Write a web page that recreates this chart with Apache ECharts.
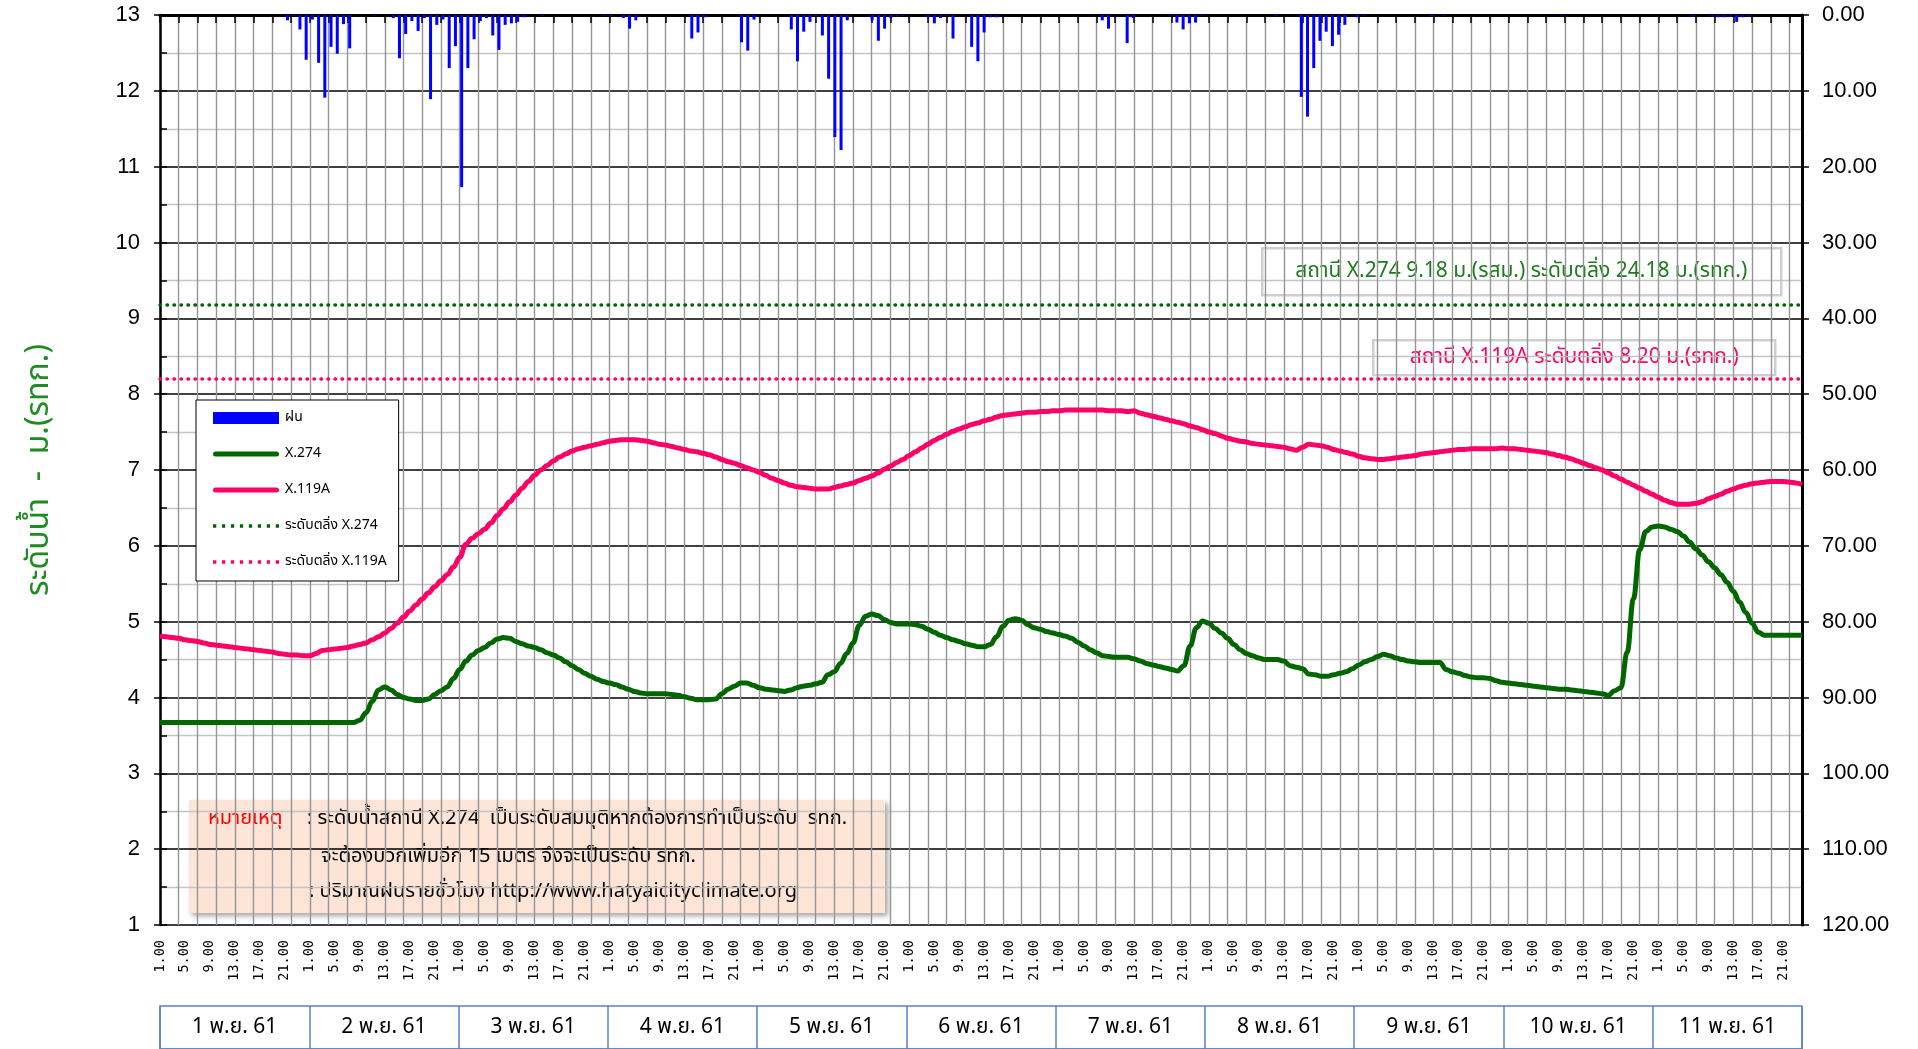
<!DOCTYPE html>
<html>
<head>
<meta charset="utf-8">
<title>ระดับน้ำ X.274 / X.119A</title>
<script src="https://cdn.jsdelivr.net/npm/echarts@6/dist/echarts.min.js"></script>
<style>
  html, body { margin: 0; padding: 0; background: #fff; }
  #main { width: 1918px; height: 1049px; }
</style>
</head>
<body>
<div id="main"></div>
<script>
// วันที่ (1-11 พ.ย. 61) และชั่วโมง 1.00 - 24.00
const days = ['1 พ.ย. 61', '2 พ.ย. 61', '3 พ.ย. 61', '4 พ.ย. 61', '5 พ.ย. 61', '6 พ.ย. 61',
  '7 พ.ย. 61', '8 พ.ย. 61', '9 พ.ย. 61', '10 พ.ย. 61', '11 พ.ย. 61']
const hours = ['1.00', '2.00', '3.00', '4.00', '5.00', '6.00', '7.00', '8.00', '9.00', '10.00', '11.00', '12.00',
  '13.00', '14.00', '15.00', '16.00', '17.00', '18.00', '19.00', '20.00', '21.00', '22.00', '23.00', '24.00']

// ระดับตลิ่ง
const bankX274 = 9.18
const bankX119A = 8.20

// ระดับน้ำ X.274 (ม.) รายชั่วโมง แยกรายวัน
const x274 = [
  [3.67, 3.67, 3.67, 3.67, 3.67, 3.67, 3.67, 3.67, 3.67, 3.67, 3.67, 3.67, 3.67, 3.67, 3.67, 3.67, 3.67, 3.67, 3.67, 3.67, 3.67, 3.67, 3.67, 3.67],
  [3.67, 3.67, 3.67, 3.67, 3.67, 3.67, 3.67, 3.67, 3.70, 3.80, 3.95, 4.10, 4.14, 4.10, 4.04, 4.00, 3.98, 3.96, 3.96, 3.98, 4.04, 4.09, 4.14, 4.25],
  [4.37, 4.48, 4.56, 4.62, 4.66, 4.72, 4.77, 4.79, 4.78, 4.74, 4.71, 4.68, 4.66, 4.63, 4.59, 4.56, 4.52, 4.47, 4.42, 4.37, 4.32, 4.28, 4.24, 4.21],
  [4.19, 4.17, 4.14, 4.11, 4.08, 4.06, 4.05, 4.05, 4.05, 4.05, 4.04, 4.03, 4.01, 3.99, 3.97, 3.97, 3.97, 3.98, 4.05, 4.11, 4.15, 4.19, 4.19, 4.16],
  [4.13, 4.11, 4.10, 4.09, 4.08, 4.10, 4.13, 4.15, 4.16, 4.18, 4.20, 4.30, 4.34, 4.45, 4.58, 4.72, 4.95, 5.07, 5.10, 5.08, 5.03, 4.99, 4.97, 4.97],
  [4.97, 4.96, 4.94, 4.90, 4.86, 4.82, 4.79, 4.76, 4.74, 4.71, 4.69, 4.67, 4.67, 4.70, 4.80, 4.94, 5.02, 5.04, 5.02, 4.96, 4.92, 4.90, 4.87, 4.85],
  [4.83, 4.81, 4.78, 4.73, 4.68, 4.63, 4.59, 4.55, 4.54, 4.53, 4.53, 4.53, 4.51, 4.48, 4.45, 4.43, 4.41, 4.39, 4.37, 4.35, 4.42, 4.68, 4.92, 5.01],
  [4.98, 4.91, 4.85, 4.78, 4.70, 4.63, 4.58, 4.55, 4.52, 4.50, 4.50, 4.50, 4.48, 4.42, 4.40, 4.38, 4.31, 4.30, 4.28, 4.28, 4.30, 4.32, 4.34, 4.38],
  [4.43, 4.47, 4.50, 4.54, 4.57, 4.55, 4.52, 4.50, 4.48, 4.47, 4.46, 4.46, 4.46, 4.46, 4.37, 4.34, 4.32, 4.29, 4.27, 4.26, 4.26, 4.25, 4.22, 4.20],
  [4.19, 4.18, 4.17, 4.16, 4.15, 4.14, 4.13, 4.12, 4.11, 4.11, 4.10, 4.09, 4.08, 4.07, 4.06, 4.05, 4.03, 4.09, 4.13, 4.60, 5.30, 5.95, 6.19, 6.25],
  [6.26, 6.25, 6.22, 6.19, 6.13, 6.05, 5.96, 5.88, 5.79, 5.71, 5.62, 5.52, 5.40, 5.26, 5.12, 4.98, 4.86, 4.82, 4.82, 4.82, 4.82, 4.82, 4.82, 4.82]
]

// ระดับน้ำ X.119A (ม.รทก.)
const x119a = [
  [4.81, 4.80, 4.79, 4.78, 4.76, 4.75, 4.74, 4.72, 4.70, 4.69, 4.68, 4.67, 4.66, 4.65, 4.64, 4.63, 4.62, 4.61, 4.60, 4.58, 4.57, 4.56, 4.56, 4.55],
  [4.55, 4.58, 4.62, 4.63, 4.64, 4.65, 4.66, 4.68, 4.70, 4.72, 4.76, 4.80, 4.85, 4.91, 4.98, 5.06, 5.14, 5.22, 5.30, 5.38, 5.46, 5.54, 5.62, 5.72],
  [5.85, 6.02, 6.10, 6.16, 6.22, 6.30, 6.40, 6.49, 6.58, 6.67, 6.76, 6.85, 6.93, 7.00, 7.06, 7.12, 7.17, 7.21, 7.25, 7.28, 7.30, 7.32, 7.34, 7.36],
  [7.38, 7.39, 7.40, 7.40, 7.40, 7.39, 7.38, 7.36, 7.34, 7.33, 7.31, 7.29, 7.27, 7.25, 7.24, 7.22, 7.20, 7.17, 7.14, 7.11, 7.09, 7.06, 7.03, 7.00],
  [6.97, 6.93, 6.89, 6.86, 6.83, 6.80, 6.78, 6.77, 6.76, 6.75, 6.75, 6.75, 6.77, 6.79, 6.81, 6.83, 6.86, 6.89, 6.92, 6.96, 7.01, 7.05, 7.10, 7.14],
  [7.19, 7.24, 7.29, 7.34, 7.39, 7.43, 7.47, 7.51, 7.54, 7.57, 7.60, 7.62, 7.65, 7.67, 7.70, 7.72, 7.73, 7.74, 7.75, 7.76, 7.76, 7.77, 7.77, 7.78],
  [7.78, 7.79, 7.79, 7.79, 7.79, 7.79, 7.79, 7.79, 7.78, 7.78, 7.78, 7.77, 7.78, 7.75, 7.73, 7.71, 7.69, 7.67, 7.65, 7.63, 7.61, 7.58, 7.56, 7.53],
  [7.50, 7.48, 7.45, 7.42, 7.40, 7.38, 7.37, 7.35, 7.34, 7.33, 7.32, 7.31, 7.30, 7.28, 7.26, 7.30, 7.34, 7.33, 7.32, 7.30, 7.27, 7.25, 7.23, 7.21],
  [7.18, 7.16, 7.15, 7.14, 7.14, 7.15, 7.16, 7.17, 7.18, 7.19, 7.21, 7.22, 7.23, 7.24, 7.25, 7.26, 7.27, 7.27, 7.28, 7.28, 7.28, 7.28, 7.28, 7.29],
  [7.28, 7.28, 7.27, 7.26, 7.25, 7.24, 7.23, 7.21, 7.19, 7.17, 7.15, 7.12, 7.09, 7.06, 7.03, 7.00, 6.96, 6.92, 6.88, 6.84, 6.80, 6.76, 6.72, 6.68],
  [6.64, 6.60, 6.57, 6.55, 6.55, 6.55, 6.56, 6.58, 6.62, 6.65, 6.68, 6.72, 6.75, 6.78, 6.80, 6.82, 6.83, 6.84, 6.85, 6.85, 6.85, 6.84, 6.83, 6.81]
]

// ปริมาณฝนรายชั่วโมง (มม.)
const rain = [
  [0, 0, 0, 0, 0, 0, 0, 0, 0, 0, 0, 0, 0, 0, 0, 0, 0, 0, 0, 0, 0.7, 0.1, 1.9, 5.9],
  [0.6, 6.3, 10.9, 4.2, 5.1, 1.2, 4.4, 0, 0, 0, 0.1, 0, 0, 0.4, 5.7, 2.5, 0.8, 2.1, 0.4, 11.1, 1.3, 0.6, 7.0, 4.1],
  [22.7, 7.0, 3.2, 0.8, 0.4, 2.7, 4.6, 1.3, 1.1, 0.9, 0.3, 0, 0, 0.1, 0, 0, 0, 0, 0, 0, 0, 0, 0, 0.1],
  [0.1, 0, 0.4, 1.8, 0.7, 0, 0, 0, 0, 0, 0, 0, 0, 3.1, 2.3, 0.3, 0, 0, 0, 0, 0, 3.6, 4.7, 0.6],
  [0, 0, 0, 0, 0, 1.9, 6.1, 2.2, 0.9, 0.2, 2.7, 8.4, 16.1, 17.8, 0.7, 0, 0, 0, 0.7, 3.4, 1.8, 0.4, 0.2, 0.1],
  [0, 0, 0, 0.3, 1.1, 0.4, 0.1, 3.1, 0, 0, 4.2, 6.1, 2.3, 0.3, 0.3, 0, 0, 0, 0, 0, 0, 0, 0, 0],
  [0, 0, 0, 0, 0, 0, 0, 0.7, 1.8, 0, 0, 3.7, 0.4, 0, 0, 0, 0, 0, 0.1, 1.0, 1.9, 1.1, 1.0, 0.1],
  [0, 0, 0, 0, 0, 0, 0, 0, 0, 0, 0, 0.2, 0, 0, 0, 10.8, 13.4, 7.0, 3.4, 2.2, 4.1, 2.6, 1.3, 0],
  [0.3, 0.1, 0, 0, 0, 0, 0, 0, 0, 0, 0, 0, 0.2, 0, 0.1, 0, 0, 0, 0, 0, 0, 0, 0, 0],
  [0, 0, 0, 0, 0, 0, 0, 0, 0, 0.1, 0, 0, 0, 0, 0, 0, 0, 0, 0, 0, 0, 0, 0, 0],
  [0, 0, 0, 0, 0, 0, 0.2, 0, 0, 0.2, 0.3, 0.3, 0.2, 0.9, 0.3, 0.2, 0, 0, 0, 0, 0, 0, 0, 0]
]

const cats = []
days.forEach(() => hours.forEach(h => cats.push(h)))

const thai = '"Noto Sans Thai", "Noto Sans", "Liberation Sans", sans-serif'
const green = '#006600'
const pink = '#FF0066'
const dotted = [0.5, 6.5]
const boxBlue = '#5583C8'

// ไอคอน legend: เส้นทึบ และ เส้นจุด
const iconLine = 'path://M2.5,0H63.5A2.5,2.5 0 0 1 63.5,5H2.5A2.5,2.5 0 0 1 2.5,0Z'
const iconDots = 'path://M0,0h3.2v3.2h-3.2z M8.8,0h3.2v3.2h-3.2z M17.6,0h3.2v3.2h-3.2z M26.4,0h3.2v3.2h-3.2z' +
  ' M35.2,0h3.2v3.2h-3.2z M44,0h3.2v3.2h-3.2z M52.8,0h3.2v3.2h-3.2z M61.6,0h3.2v3.2h-3.2z'

const chart = echarts.init(document.getElementById('main'))

chart.setOption({
  backgroundColor: '#fff',
  animation: false,
  textStyle: { fontFamily: thai },
  grid: [
    { left: 160, right: 116, top: 15, bottom: 124 },
    // ตารางวันที่ด้านล่าง
    { left: 160, right: 116, top: 1006, height: 60, show: true, borderColor: boxBlue, borderWidth: 1.5 }
  ],
  legend: {
    orient: 'vertical',
    left: 196,
    top: 400,
    padding: [11, 12, 12, 17],
    itemGap: 22,
    itemWidth: 66,
    itemHeight: 12,
    borderColor: '#000',
    borderWidth: 1,
    backgroundColor: '#fff',
    textStyle: { fontSize: 14, color: '#000', padding: [0, 0, 0, 1] },
    data: [
      { name: 'ฝน', icon: 'rect' },
      { name: 'X.274', icon: iconLine },
      { name: 'X.119A', icon: iconLine },
      { name: 'ระดับตลิ่ง X.274', icon: iconDots },
      { name: 'ระดับตลิ่ง X.119A', icon: iconDots }
    ]
  },
  xAxis: [
    {
      type: 'category',
      data: cats,
      boundaryGap: false,
      axisLine: { lineStyle: { color: '#000', width: 3 } },
      axisTick: { interval: 2, length: 8, lineStyle: { color: '#000', width: 1.5 } },
      axisLabel: {
        interval: 3,
        rotate: 90,
        margin: 15,
        fontFamily: 'DejaVu Sans Mono',
        fontSize: 13.5,
        color: '#000'
      },
      splitLine: { show: true, interval: 2, lineStyle: { color: '#959595', width: 1.4 } }
    },
    {
      // แกนสำหรับแท่งฝน (แท่งอยู่ระหว่างชั่วโมง)
      type: 'category',
      data: cats,
      boundaryGap: true,
      show: false
    },
    {
      gridIndex: 1,
      type: 'category',
      position: 'top',
      data: days,
      boundaryGap: true,
      axisLine: { lineStyle: { color: boxBlue, width: 1.5 } },
      axisTick: { show: false },
      axisLabel: { inside: true, interval: 0, margin: 12, fontSize: 21, color: '#000', fontFamily: thai },
      splitLine: { show: true, interval: 0, lineStyle: { color: boxBlue, width: 1.5 } }
    }
  ],
  yAxis: [
    {
      type: 'value',
      min: 1,
      max: 13,
      interval: 1,
      name: 'ระดับน้ำ  -  ม.(รทก.)',
      nameLocation: 'middle',
      nameRotate: 90,
      nameGap: 102,
      nameTextStyle: { fontSize: 32, color: '#1E8C1E', fontFamily: thai },
      axisLine: { show: true, lineStyle: { color: '#000', width: 2.5 } },
      axisTick: { show: true, length: 6, lineStyle: { color: '#000', width: 1.5 } },
      axisLabel: { fontSize: 22, color: '#000', margin: 20, fontFamily: 'Liberation Sans' },
      splitLine: { lineStyle: { color: '#000', width: 1.6 } },
      minorTick: { show: false, splitNumber: 2 },
      minorSplitLine: { show: true, lineStyle: { color: '#C4C4C4', width: 1.3 } }
    },
    {
      type: 'value',
      position: 'right',
      inverse: true,
      min: 0,
      max: 120,
      interval: 10,
      axisLine: { show: true, lineStyle: { color: '#000', width: 3 } },
      axisTick: { show: true, length: 7, lineStyle: { color: '#000', width: 1.5 } },
      axisLabel: {
        fontSize: 22,
        color: '#000',
        margin: 20,
        fontFamily: 'Liberation Sans',
        formatter: v => v.toFixed(2)
      },
      splitLine: { show: false }
    },
    {
      // ขีดย่อยด้านในแกนซ้าย
      type: 'value',
      position: 'left',
      min: 1,
      max: 13,
      interval: 0.5,
      axisLine: { show: false },
      axisTick: { show: true, inside: true, length: 7, lineStyle: { color: '#000', width: 1.5 } },
      axisLabel: { show: false },
      splitLine: { show: false }
    },
    { gridIndex: 1, type: 'value', show: false }
  ],
  series: [
    {
      name: 'ฝน',
      type: 'bar',
      xAxisIndex: 1,
      yAxisIndex: 1,
      barWidth: 3,
      itemStyle: { color: '#0000FF' },
      data: rain.flat()
    },
    {
      name: 'X.274',
      type: 'line',
      data: x274.flat(),
      smooth: 0.4,
      smoothMonotone: 'x',
      symbol: 'none',
      itemStyle: { color: green },
      lineStyle: { color: green, width: 5 },
      z: 4
    },
    {
      name: 'X.119A',
      type: 'line',
      data: x119a.flat(),
      smooth: 0.4,
      smoothMonotone: 'x',
      symbol: 'none',
      itemStyle: { color: pink },
      lineStyle: { color: pink, width: 5 },
      z: 4
    },
    {
      name: 'ระดับตลิ่ง X.274',
      type: 'line',
      data: [],
      symbol: 'none',
      itemStyle: { color: green },
      lineStyle: { color: green, width: 3.5, type: dotted, cap: 'round' },
      markLine: {
        silent: true,
        symbol: 'none',
        label: { show: false },
        lineStyle: { color: green, width: 3.5, type: dotted, cap: 'round' },
        data: [{ yAxis: bankX274 }]
      }
    },
    {
      name: 'ระดับตลิ่ง X.119A',
      type: 'line',
      data: [],
      symbol: 'none',
      itemStyle: { color: pink },
      lineStyle: { color: pink, width: 3.5, type: dotted, cap: 'round' },
      markLine: {
        silent: true,
        symbol: 'none',
        label: { show: false },
        lineStyle: { color: pink, width: 3.5, type: dotted, cap: 'round' },
        data: [{ yAxis: bankX119A }]
      }
    }
  ],
  graphic: [
    // กล่องข้อความระดับตลิ่ง
    {
      type: 'group',
      left: 1261,
      top: 247,
      children: [
        { type: 'rect', shape: { x: 0, y: 0, width: 519, height: 47 }, style: { fill: '#fff', stroke: '#CFCFCF', lineWidth: 2.5 } },
        { type: 'text', x: 259, y: 24, style: { text: 'สถานี X.274 9.18 ม.(รสม.) ระดับตลิ่ง 24.18 ม.(รทก.)', fill: '#1E7B1E', font: '21px ' + thai, align: 'center', verticalAlign: 'middle' } }
      ]
    },
    {
      type: 'group',
      left: 1372,
      top: 339,
      children: [
        { type: 'rect', shape: { x: 0, y: 0, width: 402, height: 35 }, style: { fill: '#fff', stroke: '#CFCFCF', lineWidth: 2.5 } },
        { type: 'text', x: 201, y: 18, style: { text: 'สถานี X.119A ระดับตลิ่ง 8.20 ม.(รทก.)', fill: pink, font: '21px ' + thai, align: 'center', verticalAlign: 'middle' } }
      ]
    },
    // หมายเหตุ
    {
      type: 'group',
      left: 189,
      top: 800,
      z: 100,
      children: [
        { type: 'rect', shape: { x: 0, y: 0, width: 696, height: 113 }, style: { fill: '#FCE4D6', shadowBlur: 5, shadowOffsetX: 3, shadowOffsetY: 3, shadowColor: 'rgba(0,0,0,0.35)' } },
        { type: 'text', x: 19, y: 20, style: { text: 'หมายเหตุ', fill: '#FF0000', font: '20px ' + thai, verticalAlign: 'middle' } },
        { type: 'text', x: 118, y: 20, style: { text: ': ระดับน้ำสถานี X.274  เป็นระดับสมมุติหากต้องการทำเป็นระดับ  รทก.', fill: '#000', font: '20px ' + thai, verticalAlign: 'middle' } },
        { type: 'text', x: 132, y: 58, style: { text: 'จะต้องบวกเพิ่มอีก 15 เมตร จึงจะเป็นระดับ รทก.', fill: '#000', font: '20px ' + thai, verticalAlign: 'middle' } },
        { type: 'text', x: 120, y: 93, style: { text: ': ปริมาณฝนรายชั่วโมง http://www.hatyaicityclimate.org', fill: '#000', font: '20px ' + thai, verticalAlign: 'middle' } }
      ]
    }
  ]
})
</script>
</body>
</html>
